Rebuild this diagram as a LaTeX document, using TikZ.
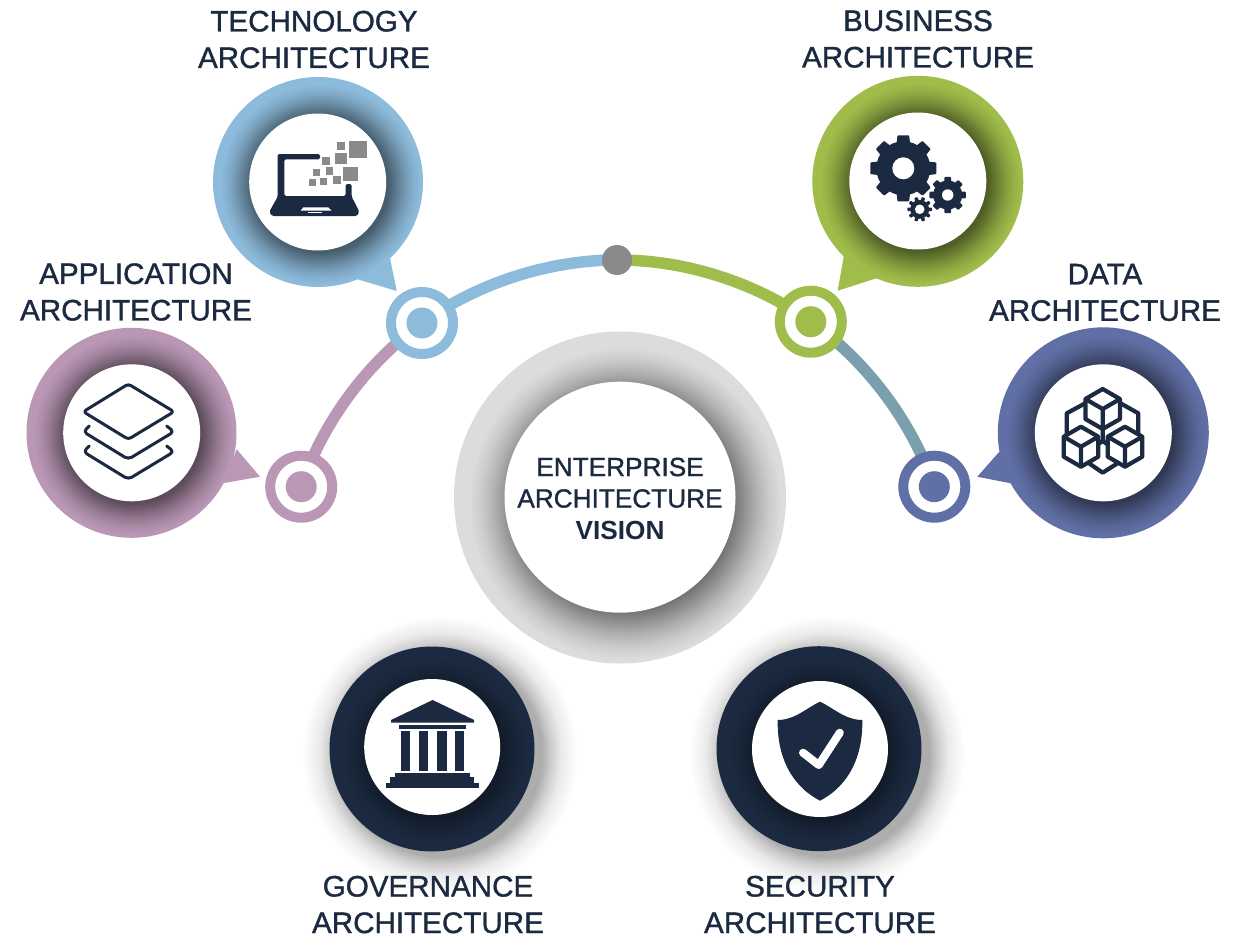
\documentclass[tikz,border=0pt]{standalone}
\usepackage{fontspec}
\setmainfont{Liberation Sans}
\newfontfamily\labfont[RawFeature={embolden=1.2}]{Liberation Sans}
\definecolor{cblue}{HTML}{8DBBDB}
\definecolor{cgreen}{HTML}{A0BC4A}
\definecolor{cpink}{HTML}{B997B5}
\definecolor{cpurple}{HTML}{6070A6}
\definecolor{cteal}{HTML}{7AA0AE}
\definecolor{cnavy}{HTML}{1B2A40}
\definecolor{cgrey}{HTML}{DCDCDC}
\definecolor{cdot}{HTML}{8A8A8A}
\newcommand\ringshade[2]{\pgfdeclareradialshading{#1}{\pgfpointorigin}{color(0bp)=(#2!50!black); color(17bp)=(#2!50!black); color(19bp)=(#2!65!black); color(21bp)=(#2!80!black); color(23bp)=(#2!92!black); color(25bp)=(#2); color(50bp)=(#2)}}
\ringshade{shblue}{cblue}
\ringshade{shgreen}{cgreen}
\ringshade{shpink}{cpink}
\ringshade{shpurple}{cpurple}
\ringshade{shgrey}{cgrey}
\pgfdeclareradialshading{shnavy}{\pgfpointorigin}{color(0bp)=(cnavy!65!black); color(18bp)=(cnavy!65!black); color(22bp)=(cnavy!90!black); color(25bp)=(cnavy); color(50bp)=(cnavy)}
\pgfdeclareradialshading{dropsh}{\pgfpointorigin}{color(0bp)=(black!32); color(18.5bp)=(black!32); color(20bp)=(black!20); color(22bp)=(black!8); color(25bp)=(white); color(50bp)=(white)}
\newcommand\mygear[7]{% cx cy root outer tophalfangle hole step
  \begin{scope}[shift={(#1,#2)}]
    \fill[cnavy] (0,0) circle (#3pt);
    \foreach \a in {0,#7,...,359}{\fill[cnavy,rounded corners=0.8pt] (\a-1.5*#5:#3-1) -- (\a-#5:#4) -- (\a+#5:#4) -- (\a+1.5*#5:#3-1) -- cycle;}
    \fill[white] (0,0) circle (#6pt);
  \end{scope}}
\tikzset{
  x=1pt,y=-1pt,
  bubble/.style={circle,fill=#1,minimum size=210pt,inner sep=0pt,outer sep=0pt},
  hole/.style={circle,fill=white,minimum size=137pt,inner sep=0pt,outer sep=0pt},
  ringnode/.style={circle,draw=#1,fill=white,line width=10pt,minimum size=62pt,inner sep=0pt,outer sep=0pt},
  dotnode/.style={circle,fill=#1,minimum size=31pt,inner sep=0pt,outer sep=0pt},
  link/.style={line width=11.5pt,draw=#1},
  lab/.style={text=cnavy,align=center,inner sep=0pt,font=\labfont\fontsize{29.6}{36.5}\selectfont},
  cen/.style={text=cnavy,align=center,inner sep=0pt,font=\labfont\fontsize{26.2}{31.5}\selectfont},
  stroke/.style={draw=cnavy,line width=#1,rounded corners=1.5pt,line cap=round,line join=round},
  sq/.style={fill=cdot}
}
\begin{document}
\begin{tikzpicture}
\useasboundingbox (0,0) rectangle (1243,940);
\fill[white] (0,0) rectangle (1243,940);

% drop shadows of the two dark discs
\shade[shading=dropsh] (440,754) circle (138pt);
\shade[shading=dropsh] (827,754) circle (138pt);

% centre ring
\node[circle,fill=cgrey,minimum size=332pt,inner sep=0pt,outer sep=0pt] (cRing) at (620,497.5) {};
\shade[shading=shgrey] (625,503) circle (156pt);
\node[circle,fill=white,minimum size=231pt,inner sep=0pt,outer sep=0pt] (cHole) at (620,497.2) {};
\node[cen] (cText) at (620,498.5) {ENTERPRISE\\ARCHITECTURE\\{\rmfamily\bfseries VISION}};

% ring nodes and dot (coordinates first for links)
\coordinate (pPink) at (301.2,486.7);
\coordinate (pBlue) at (422,323);
\coordinate (pTop) at (617,260);
\coordinate (pGreen) at (810.8,321.7);
\coordinate (pPurple) at (934.3,486.7);

\draw[link=cpink] (pPink) to[bend left=17.85,looseness=0.85] (pBlue);
\draw[link=cblue] (pBlue) to[bend left=17.9,looseness=0.85] (pTop);
\draw[link=cgreen] (pTop) to[bend left=17.9,looseness=0.85] (pGreen);
\draw[link=cteal] (pGreen) to[bend left=17.85,looseness=0.85] (pPurple);

\node[ringnode=cpink] (nPink) at (pPink) {};
\node[dotnode=cpink] (dPink) at (pPink) {};
\node[ringnode=cblue] (nBlue) at (pBlue) {};
\node[dotnode=cblue] (dBlue) at (pBlue) {};
\node[circle,fill=cdot,minimum size=30pt,inner sep=0pt] (nTop) at (pTop) {};
\node[ringnode=cgreen] (nGreen) at (pGreen) {};
\node[dotnode=cgreen] (dGreen) at (pGreen) {};
\node[ringnode=cpurple] (nPurple) at (pPurple) {};
\node[dotnode=cpurple] (dPurple) at (pPurple) {};

% technology bubble
\node[bubble=cblue] (bBlue) at (318,182) {};
\fill[cblue] (390,258) -- (396.7,291) -- (356.7,279) -- cycle;
\shade[shading=shblue] (320,184) circle (100pt);
\node[hole] (hBlue) at (317.7,182) {};
% business bubble
\node[bubble=cgreen,minimum size=211pt] (bGreen) at (917.8,181.3) {};
\fill[cgreen] (844,255) -- (837.7,290.7) -- (877.3,278) -- cycle;
\shade[shading=shgreen] (920,183) circle (100pt);
\node[hole] (hGreen) at (917.8,181) {};
% application bubble
\node[bubble=cpink] (bPink) at (131.5,432.8) {};
\fill[cpink] (236.7,449.3) -- (260,476.7) -- (224,483) -- cycle;
\shade[shading=shpink] (133.5,434.8) circle (100pt);
\node[hole] (hPink) at (131.7,432.8) {};
% data bubble
\node[bubble=cpurple,minimum size=211pt] (bPurple) at (1103.3,432.8) {};
\fill[cpurple] (999.3,451.7) -- (977.3,476.7) -- (1010.7,483.3) -- cycle;
\shade[shading=shpurple] (1105.3,434.8) circle (100pt);
\node[hole] (hPurple) at (1103.3,432.8) {};
% governance disc
\node[bubble=cnavy,minimum size=205pt] (bGov) at (432,749) {};
\shade[shading=shnavy] (435,751) circle (94pt);
\node[hole,minimum size=136pt] (hGov) at (432.2,747) {};
% security disc
\node[bubble=cnavy,minimum size=205pt] (bSec) at (819,748.7) {};
\shade[shading=shnavy] (822,751) circle (94pt);
\node[hole,minimum size=136pt] (hSec) at (820,749) {};

% laptop icon
\fill[cnavy,rounded corners=1.5pt] (320,154) -- (277.7,154) -- (277.7,196.7) -- (269.3,211.7) -- (272,216) -- (357,216) -- (359.3,211.7) -- (351.7,196.7) -- (351.7,184) -- (345.7,184) -- (345.7,196) -- (284.3,196) -- (284.3,159.3) -- (320,159.3) -- cycle;
\fill[white] (303.3,207.3) -- (328.3,207.3) -- (331.7,210.7) -- (300.7,210.7) -- cycle;
\fill[white] (308.3,212) rectangle (321.7,213.3);
\fill[sq] (349,141) rectangle (366.7,158.3);
\fill[sq] (337.3,142.3) rectangle (345.3,150);
\fill[sq] (335,153.3) rectangle (346.7,164.3);
\fill[sq] (322.3,156.7) rectangle (330.3,164.7);
\fill[sq] (343.3,167) rectangle (357.7,181);
\fill[sq] (313.3,169.3) rectangle (320.3,176.3);
\fill[sq] (325.7,167) rectangle (333.3,174.7);
\fill[sq] (332.7,175.7) rectangle (341.3,183.7);
\fill[sq] (320.3,178) rectangle (327,185);
\fill[sq] (309,179) rectangle (316,185.7);

% gears icon
\mygear{903.3}{168.3}{27}{33.5}{10}{11}{45}
\mygear{947.7}{195}{14.5}{18.5}{10}{5.7}{45}
\mygear{919.7}{209.3}{9.5}{12.5}{8}{4.8}{36}

% layers icon
\draw[stroke=3pt,rounded corners=3pt] (128.3,384) -- (174,411.7) -- (128.3,439.3) -- (83.3,411.7) -- cycle;
\draw[stroke=3pt,rounded corners=4pt] (89.3,426) -- (83.3,431.7) -- (128.3,459.3) -- (174,431.7) -- (166.7,426);
\draw[stroke=3pt,rounded corners=4pt] (89.3,446) -- (83.3,451.7) -- (128.3,479.3) -- (174,451.7) -- (166.7,446);

% cubes icon
\begin{scope}[line width=4.2pt,line join=round]
  \draw[cnavy] (1085.7,403) -- (1066.7,413.3) -- (1066.7,435);
  \draw[cnavy] (1120,403) -- (1138.3,413.3) -- (1138.3,435);
  \draw[cnavy] (1086.7,461.7) -- (1102.7,472.7) -- (1120,461.7);
  \draw[cnavy] (1098.3,444) -- (1102.7,441) -- (1107,444) (1102.7,441) -- (1102.7,429);
  \foreach \cx/\cy in {1102.7/409,1081/446.7,1125/446.7}{
    \fill[white] (\cx,\cy-20) -- (\cx+17.3,\cy-10) -- (\cx+17.3,\cy+10) -- (\cx,\cy+20) -- (\cx-17.3,\cy+10) -- (\cx-17.3,\cy-10) -- cycle;
    \draw[cnavy] (\cx,\cy-20) -- (\cx+17.3,\cy-10) -- (\cx+17.3,\cy+10) -- (\cx,\cy+20) -- (\cx-17.3,\cy+10) -- (\cx-17.3,\cy-10) -- cycle;
    \draw[cnavy] (\cx-17.3,\cy-10) -- (\cx,\cy) -- (\cx+17.3,\cy-10) (\cx,\cy) -- (\cx,\cy+20);
  }
\end{scope}

% temple icon
\fill[cnavy] (432.6,700) -- (474.2,720) -- (474.2,722.7) -- (391.1,722.7) -- (391.1,720) -- cycle;
\fill[cnavy] (399,725) rectangle (466.2,729.3);
\fill[cnavy] (401,731) rectangle (410.1,771);
\fill[cnavy] (419.2,731) rectangle (428.3,771);
\fill[cnavy] (437,731) rectangle (446.5,771);
\fill[cnavy] (455.2,731) rectangle (463.9,771);
\fill[cnavy] (395.1,772.7) rectangle (470.2,777.3);
\fill[cnavy] (390.4,777.3) rectangle (474.2,783);
\fill[cnavy] (386,783) rectangle (478.9,787.7);

% shield icon
\fill[cnavy] (820,701.7) .. controls (808,707) and (795,720) .. (777.7,720) .. controls (777,755) and (790,785) .. (820,800.7) .. controls (850,785) and (863,755) .. (862.3,720) .. controls (845,720) and (832,707) .. (820,701.7) -- cycle;
\draw[white,line width=8pt,line cap=round,line join=round] (803,752.7) -- (818.8,765) -- (839.8,732.7);

% labels
\node[lab] (tTech) at (314,39.5) {TECHNOLOGY\\ARCHITECTURE};
\node[lab] (tBus) at (918,39) {BUSINESS\\ARCHITECTURE};
\node[lab] (tApp) at (136,292) {APPLICATION\\ARCHITECTURE};
\node[lab] (tData) at (1105,292.5) {DATA\\ARCHITECTURE};
\node[lab,anchor=base] (tGov) at (428,933) {GOVERNANCE\\ARCHITECTURE};
\node[lab,anchor=base] (tSec) at (820,933) {SECURITY\\ARCHITECTURE};
\end{tikzpicture}
\end{document}
